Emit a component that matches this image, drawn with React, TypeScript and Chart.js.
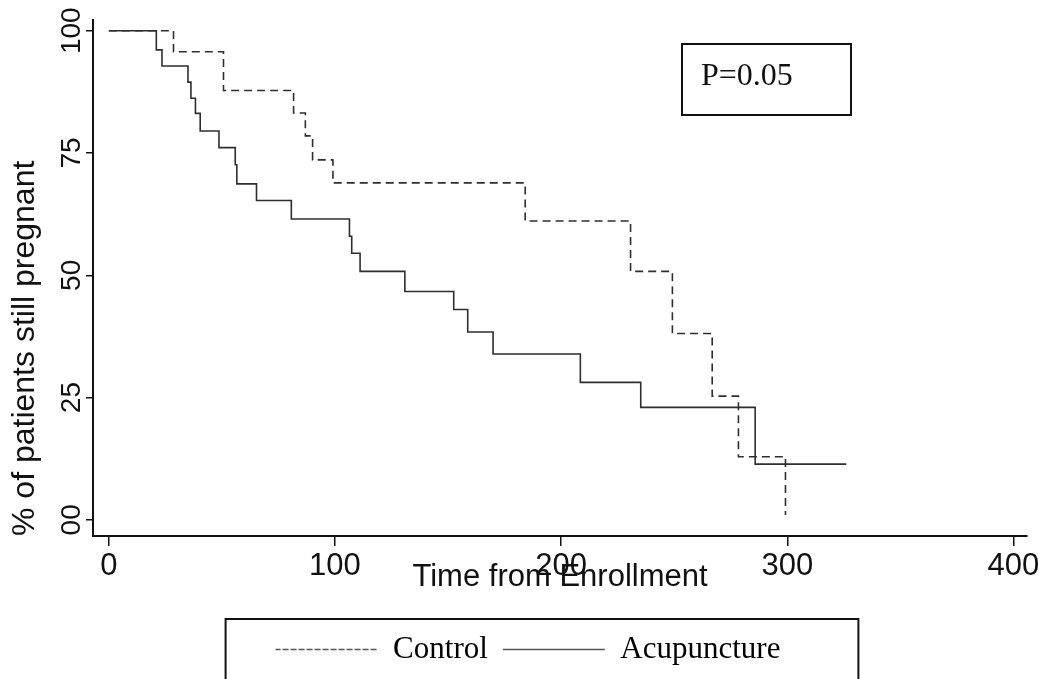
import React, { useEffect, useRef } from "react";
import { Chart, registerables } from "chart.js";

Chart.register(...registerables);

// ---- data ----
const controlTimes = [0, 28.6, 50.7, 81.7, 86.9, 90.1, 99.1, 184.1, 230.7, 249.2, 266.8, 278.4, 299.2];
const controlSurvival = [100, 95.7, 87.8, 83.2, 78.5, 73.6, 68.9, 61.1, 50.8, 38.1, 25.3, 12.9, 1];

const acupunctureTimes = [0, 21, 23.5, 35.0, 36.3, 38.3, 40.4, 48.7, 55.9, 56.6, 65.3, 80.7, 106.4, 107.4, 111.1, 130.9, 152.5, 158.7, 169.9, 208.5, 235.2, 285.8, 326.1];
const acupunctureSurvival = [100, 96.1, 92.8, 89.5, 86.2, 83.1, 79.5, 76.1, 72.6, 68.7, 65.3, 61.5, 58.0, 54.5, 50.8, 46.7, 43.0, 38.4, 33.9, 28.1, 23.0, 11.4, 11.4];

const xTickValues = [0, 100, 200, 300, 400];
const yTickValues = [0, 25, 50, 75, 100];
const yTickLabels = ["00", "25", "50", "75", "100"];
const seriesNames = ["Control", "Acupuncture"];
const xTitle = "Time from Enrollment";
const yTitle = "% of patients still pregnant";
const pValueLabel = "P=0.05";

const SANS = "'Liberation Sans', Arial, sans-serif";
const SERIF = "'Liberation Serif', 'Times New Roman', serif";
const INK = "#111111";
const LINE = "#2e2e2e";

const Y_TICK_SIZE = 28;

function measure(text: string, font: string): number {
  const c = document.createElement("canvas");
  const ctx = c.getContext("2d");
  if (!ctx) return 0;
  ctx.font = font;
  return ctx.measureText(text).width;
}

const framesPlugin = {
  id: "frames",
  afterDraw(chart: any) {
    const { ctx, chartArea } = chart;
    ctx.save();
    ctx.strokeStyle = INK;
    ctx.lineWidth = 2;
    // P-value box
    const bx = chartArea.left + 589;
    const by = chartArea.top + 24;
    ctx.strokeRect(bx, by, 169, 71);
    ctx.fillStyle = INK;
    ctx.font = `32px ${SERIF}`;
    ctx.textBaseline = "alphabetic";
    ctx.textAlign = "left";
    ctx.fillText(pValueLabel, bx + 19, by + 41);
    // legend frame
    const legend = chart.legend;
    if (legend && legend.legendHitBoxes && legend.legendHitBoxes.length) {
      const hb = legend.legendHitBoxes;
      const first = hb[0];
      const last = hb[hb.length - 1];
      const left = first.left - 50;
      const right = last.left + last.width + 78;
      ctx.strokeRect(left, legend.top, right - left, chart.height - legend.top + 30);
    }
    ctx.restore();
  },
};

export default function App() {
  const canvasRef = useRef<HTMLCanvasElement | null>(null);

  useEffect(() => {
    document.body.style.margin = "0";
    const canvas = canvasRef.current;
    if (!canvas) return;

    const yLabelWidth = measure("100", `${Y_TICK_SIZE}px ${SANS}`);

    const chart = new Chart(canvas, {
      type: "line",
      data: {
        datasets: [
          {
            label: seriesNames[0],
            data: controlTimes.map((t, i) => ({ x: t, y: controlSurvival[i] })),
            stepped: true,
            borderColor: LINE,
            borderWidth: 1.6,
            borderDash: [8, 5],
            pointRadius: 0,
            fill: false,
          },
          {
            label: seriesNames[1],
            data: acupunctureTimes.map((t, i) => ({ x: t, y: acupunctureSurvival[i] })),
            stepped: true,
            borderColor: LINE,
            borderWidth: 1.6,
            pointRadius: 0,
            fill: false,
          },
        ],
      },
      options: {
        responsive: false,
        animation: false,
        devicePixelRatio: 1,
        layout: { padding: { left: 29, right: 18, top: 20, bottom: 4 } },
        plugins: {
          tooltip: { enabled: false },
          legend: {
            position: "bottom",
            labels: {
              boxWidth: 102,
              boxHeight: 0,
              padding: 15,
              color: INK,
              font: { family: SERIF, size: 31 },
              generateLabels: (ch: any) =>
                ch.data.datasets.map((ds: any, i: number) => ({
                  text: ds.label,
                  fillStyle: "rgba(0,0,0,0)",
                  strokeStyle: "#555",
                  lineWidth: 1.3,
                  lineDash: i === 0 ? [5, 3] : [],
                  hidden: false,
                  datasetIndex: i,
                })),
            },
          },
        },
        scales: {
          x: {
            type: "linear",
            min: -7,
            max: 406,
            afterBuildTicks: (s: any) => {
              s.ticks = xTickValues.map((v) => ({ value: v }));
            },
            afterFit: (s: any) => {
              s.height = 83;
            },
            grid: {
              display: true,
              drawOnChartArea: false,
              drawTicks: true,
              tickLength: 10,
              color: INK,
              lineWidth: 1.5,
            },
            border: { display: true, color: INK, width: 2 },
            ticks: {
              autoSkip: false,
              maxRotation: 0,
              minRotation: 0,
              padding: 2,
              color: INK,
              font: { family: SANS, size: 31 },
              callback: (v: any) => String(v),
            },
            title: {
              display: true,
              text: xTitle,
              color: INK,
              font: { family: SANS, size: 31 },
              padding: { top: 0, bottom: 23.4 },
            },
          },
          y: {
            type: "linear",
            min: -3.3,
            max: 102.2,
            afterBuildTicks: (s: any) => {
              s.ticks = yTickValues.map((v) => ({ value: v }));
            },
            afterFit: (s: any) => {
              s.width = 64;
            },
            grid: {
              display: true,
              drawOnChartArea: false,
              drawTicks: true,
              tickLength: 7,
              color: INK,
              lineWidth: 1.5,
            },
            border: { display: true, color: INK, width: 2 },
            ticks: {
              autoSkip: false,
              minRotation: 90,
              maxRotation: 90,
              crossAlign: "center",
              padding: 14 - yLabelWidth / 2,
              color: INK,
              font: { family: SANS, size: Y_TICK_SIZE },
              callback: (v: any) => {
                const idx = yTickValues.indexOf(Number(v));
                return idx >= 0 ? yTickLabels[idx] : "";
              },
            },
            title: {
              display: true,
              text: yTitle,
              align: "start",
              color: INK,
              font: { family: SANS, size: 32 },
              padding: { top: -23, bottom: 0 },
            },
          },
        },
      },
      plugins: [framesPlugin],
    } as any);

    return () => {
      chart.destroy();
    };
  }, []);

  return (
    <div style={{ width: 1045, height: 679, overflow: "hidden", background: "#fff" }}>
      <canvas ref={canvasRef} width={1045} height={679} style={{ display: "block" }} />
    </div>
  );
}
